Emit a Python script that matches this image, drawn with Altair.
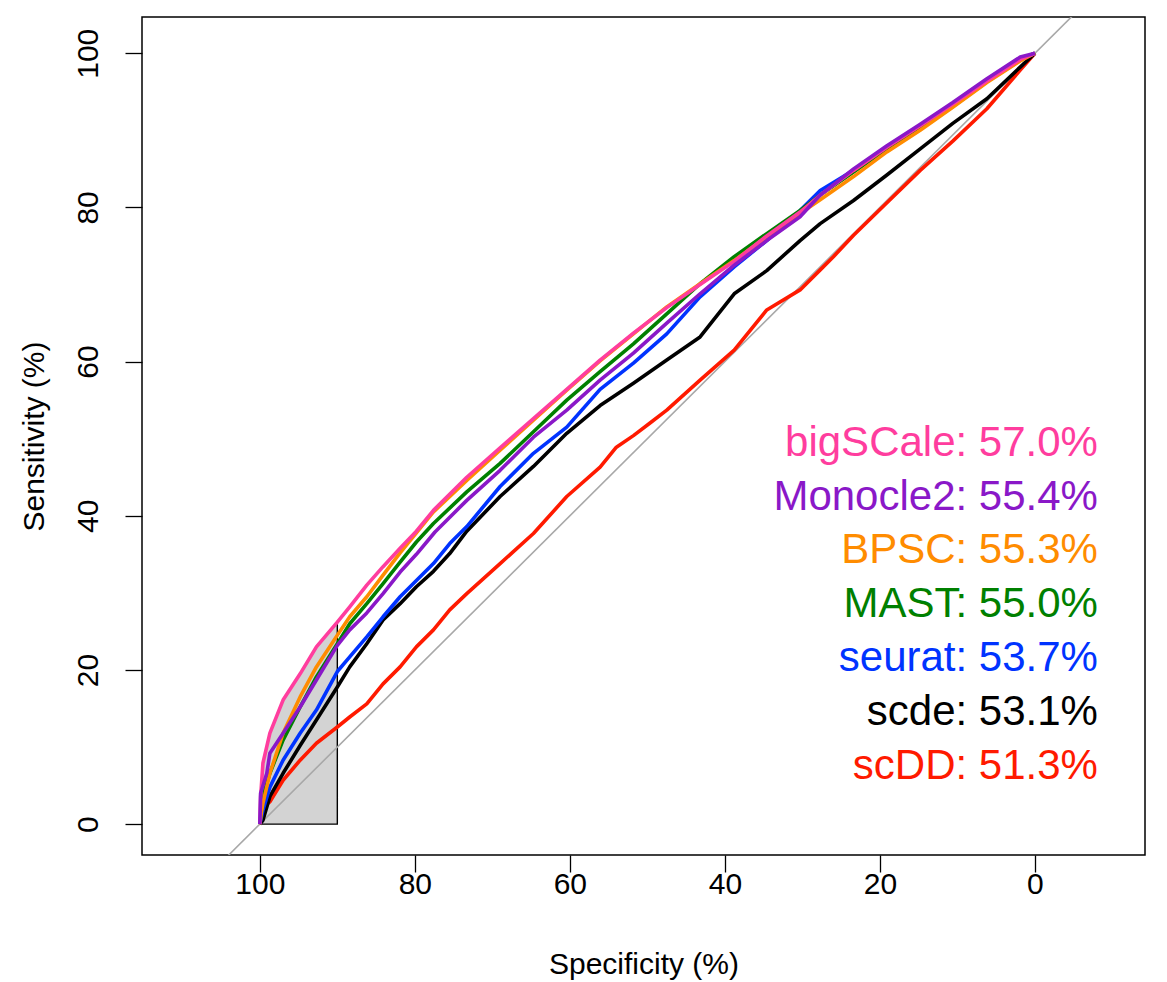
import altair as alt
import pandas as pd

# ROC curves: specificity (%) vs sensitivity (%) for each DE method
methods = ["scDD", "scde", "seurat", "MAST", "BPSC", "bigSCale", "Monocle2"]
colors = {
    "bigSCale": "#FF3D9E",
    "Monocle2": "#8A18C8",
    "BPSC": "#FF8C00",
    "MAST": "#008000",
    "seurat": "#0033FF",
    "scde": "#000000",
    "scDD": "#FF1A00",
}

spec_bigscale = [100, 99.9, 99.6, 98.7, 97.0, 94.8, 92.7, 90.0, 88.4, 86.2, 84.1, 81.9, 79.8, 77.6, 73.3, 69.0, 64.7, 60.4, 56.1, 51.8, 47.5, 43.2, 38.8, 34.6, 30.3, 27.7, 23.4, 19.1, 14.8, 10.6, 6.2, 1.9, 0]
sens_bigscale = [0, 3.5, 7.9, 11.8, 16.1, 19.5, 23.0, 26.2, 28.2, 31.0, 33.4, 35.8, 38.0, 40.7, 45.0, 48.8, 52.6, 56.4, 60.2, 63.7, 67.0, 70.0, 73.0, 76.3, 79.4, 81.6, 84.8, 87.8, 90.6, 93.4, 96.4, 99.2, 100]

spec_monocle2 = [100, 99.9, 99.1, 98.7, 97.0, 94.8, 92.7, 90.0, 88.4, 86.2, 84.1, 81.9, 79.8, 77.4, 73.3, 69.0, 64.7, 60.4, 56.1, 51.8, 47.5, 43.2, 38.8, 34.6, 30.3, 27.7, 23.4, 19.1, 14.8, 10.6, 6.2, 1.9, 0]
sens_monocle2 = [0, 4.0, 6.6, 9.2, 11.8, 15.2, 18.7, 23.2, 25.2, 27.4, 29.9, 32.7, 35.0, 37.9, 42.0, 45.9, 50.2, 53.7, 57.6, 61.1, 65.0, 68.8, 72.5, 75.7, 78.8, 81.6, 85.0, 88.0, 90.8, 93.6, 96.7, 99.5, 100]

spec_bpsc = [100, 99.8, 99.6, 98.7, 97.0, 94.8, 92.7, 90.0, 88.4, 86.2, 84.1, 81.9, 79.8, 77.6, 73.3, 69.0, 64.7, 60.4, 56.1, 51.8, 47.5, 43.2, 38.8, 34.6, 30.3, 27.7, 23.4, 19.1, 14.8, 10.6, 6.2, 1.9, 0]
sens_bpsc = [0, 1.5, 2.7, 6.6, 11.8, 16.5, 20.4, 24.5, 26.9, 29.5, 32.3, 35.2, 37.8, 40.5, 44.6, 48.5, 52.4, 56.3, 60.1, 63.6, 67.1, 70.1, 73.1, 76.2, 79.2, 81.0, 84.0, 87.2, 90.0, 93.0, 96.2, 99.0, 100]

spec_mast = [100, 99.6, 98.7, 97.0, 94.8, 92.7, 90.0, 88.4, 86.2, 84.1, 81.9, 79.8, 77.6, 73.3, 69.0, 64.7, 60.4, 56.1, 51.8, 47.5, 43.2, 38.8, 34.6, 30.3, 27.7, 23.4, 19.1, 14.8, 10.6, 6.2, 1.9, 0]
sens_mast = [0, 3.6, 6.6, 10.9, 15.2, 19.1, 23.4, 26.0, 28.6, 31.2, 34.0, 36.6, 39.0, 43.1, 46.8, 50.9, 55.0, 58.7, 62.3, 66.2, 70.1, 73.6, 76.6, 79.6, 81.6, 84.6, 87.6, 90.2, 93.1, 96.3, 99.1, 100]

spec_seurat = [100, 99.6, 98.7, 97.0, 94.8, 92.7, 90.0, 88.4, 86.2, 84.1, 81.9, 79.8, 77.6, 75.5, 73.3, 69.0, 64.7, 60.4, 56.1, 51.8, 47.5, 43.2, 38.8, 34.6, 30.3, 27.7, 23.4, 19.1, 14.8, 10.6, 6.2, 1.9, 0]
sens_seurat = [0, 1.8, 4.8, 8.3, 11.8, 14.8, 19.8, 21.7, 24.3, 26.9, 29.5, 31.6, 33.8, 36.4, 38.6, 43.8, 48.1, 51.5, 56.4, 59.8, 63.6, 68.4, 72.3, 75.7, 79.6, 82.2, 84.8, 87.8, 90.5, 93.3, 96.4, 99.2, 100]

spec_scde = [100, 99.6, 98.7, 97.0, 94.8, 92.7, 90.0, 88.4, 86.2, 84.1, 81.9, 79.8, 77.6, 75.5, 73.3, 69.0, 64.7, 60.4, 56.1, 51.8, 47.5, 43.2, 38.8, 34.6, 30.3, 27.7, 23.4, 19.1, 14.8, 10.6, 6.2, 1.9, 0]
sens_scde = [0, 0.5, 3.6, 6.6, 10.2, 13.5, 17.8, 20.4, 23.4, 26.5, 28.6, 30.8, 32.8, 35.1, 38.0, 42.5, 46.4, 50.7, 54.3, 57.2, 60.2, 63.2, 68.8, 71.8, 75.7, 77.9, 80.9, 84.2, 87.6, 90.9, 94.1, 98.2, 100]

spec_scdd = [100, 99.6, 98.7, 97.0, 94.8, 92.7, 90.0, 88.4, 86.2, 84.1, 81.9, 79.8, 77.6, 75.5, 73.3, 69.0, 64.7, 60.4, 56.1, 54.0, 51.8, 49.7, 47.5, 43.2, 38.8, 34.6, 30.3, 27.7, 26.0, 23.4, 19.1, 14.8, 10.6, 6.2, 1.9, 0]
sens_scdd = [0, 2.2, 2.9, 5.7, 8.3, 10.5, 12.6, 13.9, 15.6, 18.2, 20.4, 23.0, 25.2, 27.8, 29.9, 33.8, 37.7, 42.5, 46.3, 48.9, 50.4, 52.0, 53.7, 57.6, 61.5, 66.7, 69.3, 71.9, 73.6, 76.4, 80.6, 84.8, 88.6, 92.8, 97.8, 100]

curves = {
    "bigSCale": (spec_bigscale, sens_bigscale),
    "Monocle2": (spec_monocle2, sens_monocle2),
    "BPSC": (spec_bpsc, sens_bpsc),
    "MAST": (spec_mast, sens_mast),
    "seurat": (spec_seurat, sens_seurat),
    "scde": (spec_scde, sens_scde),
    "scDD": (spec_scdd, sens_scdd),
}

# AUC annotations, top to bottom
label_methods = ["bigSCale", "Monocle2", "BPSC", "MAST", "seurat", "scde", "scDD"]
label_auc = ["57.0%", "55.4%", "55.3%", "55.0%", "53.7%", "53.1%", "51.3%"]
label_y = [49.5, 42.5, 35.5, 28.5, 21.5, 14.5, 7.5]

X_DOMAIN = [-14.2, 115.2]
Y_DOMAIN = [-4.0, 104.7]
TICKS = [0, 20, 40, 60, 80, 100]
AXIS_FONT = "Liberation Sans Narrow, Arial Narrow, Liberation Sans, Arial, sans-serif"

x_scale = alt.Scale(domain=X_DOMAIN, reverse=True, nice=False, zero=False)
y_scale = alt.Scale(domain=Y_DOMAIN, nice=False, zero=False)

x_enc = alt.X(
    "spec:Q", scale=x_scale,
    axis=alt.Axis(values=TICKS, title="Specificity (%)", grid=False, domain=False,
                  tickColor="black", tickSize=17, tickWidth=1.3,
                  labelFont=AXIS_FONT, labelFontSize=30, labelColor="black", labelPadding=-3,
                  titleFont=AXIS_FONT, titleFontSize=30, titleFontWeight="normal",
                  titleColor="black", titlePadding=50),
)
y_enc = alt.Y(
    "sens:Q", scale=y_scale,
    axis=alt.Axis(values=TICKS, title="Sensitivity (%)", grid=False, domain=False,
                  tickColor="black", tickSize=17, tickWidth=1.3,
                  labelFont=AXIS_FONT, labelFontSize=30, labelColor="black",
                  labelAngle=270, labelAlign="center", labelBaseline="bottom", labelPadding=22,
                  titleFont=AXIS_FONT, titleFontSize=30, titleFontWeight="normal",
                  titleColor="black", titlePadding=24),
)

# Diagonal reference line (chance level), extended across the frame
diag_df = pd.DataFrame({"spec": [X_DOMAIN[1], X_DOMAIN[0]],
                        "sens": [100 - X_DOMAIN[1], 100 - X_DOMAIN[0]]})
diag = alt.Chart(diag_df).mark_line(color="#A8A8A8", strokeWidth=1.6, clip=True).encode(
    x=x_enc, y=y_enc)

# Partial-AUC region between 100% and 90% specificity under the top curve
pa_spec = [s for s in spec_bigscale if s >= 90]
pa_sens = sens_bigscale[:len(pa_spec)]
pa_df = pd.DataFrame({"spec": pa_spec, "sens": pa_sens, "base": [0] * len(pa_spec)})
shade = alt.Chart(pa_df).mark_area(fill="#D3D3D3", stroke="black", strokeWidth=1.4,
                                   orient="vertical").encode(
    x=x_enc, y=alt.Y("sens:Q", scale=y_scale), y2="base:Q")

layers = [shade, diag]
for m in methods:
    s, v = curves[m]
    df = pd.DataFrame({"spec": s, "sens": v, "i": list(range(len(s)))})
    layers.append(
        alt.Chart(df).mark_line(color=colors[m], strokeWidth=3.6, strokeJoin="round").encode(
            x=alt.X("spec:Q", scale=x_scale), y=alt.Y("sens:Q", scale=y_scale), order="i:Q")
    )

lab_df = pd.DataFrame({
    "spec": [-8.13] * len(label_methods),
    "sens": label_y,
    "text": [f"{m}: {a}" for m, a in zip(label_methods, label_auc)],
    "col": [colors[m] for m in label_methods],
})
labels = alt.Chart(lab_df).mark_text(align="right", baseline="middle", fontSize=42,
                                     font="Liberation Sans, Arial, sans-serif").encode(
    x=alt.X("spec:Q", scale=x_scale), y=alt.Y("sens:Q", scale=y_scale),
    text="text:N", color=alt.Color("col:N", scale=None))
layers.append(labels)

chart = alt.layer(*layers).properties(
    width=1003, height=838,
    autosize=alt.AutoSizeParams(type="none"),
    padding={"left": 142, "top": 17, "right": 22, "bottom": 127},
    background="white",
).configure_view(stroke="black", strokeWidth=1.5)

chart.save("out.html", embed_options={"renderer": "svg", "actions": False})
